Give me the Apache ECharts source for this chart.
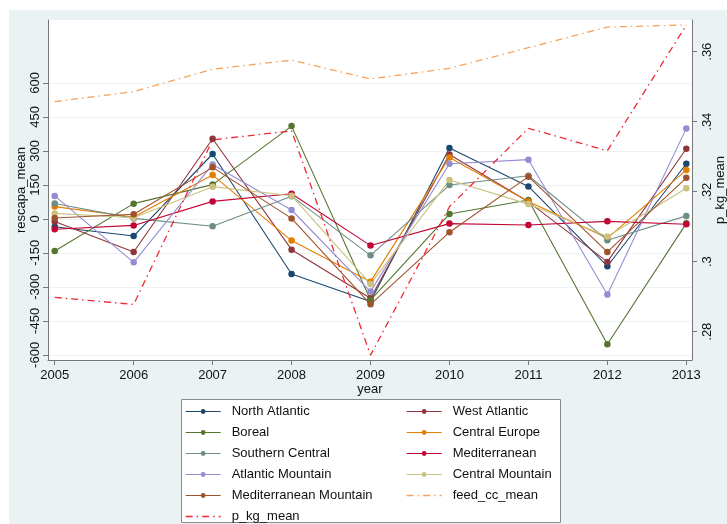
<!DOCTYPE html>
<html><head><meta charset="utf-8">
<script src="https://cdn.jsdelivr.net/npm/echarts@6/dist/echarts.min.js"></script>
<style>html,body{margin:0;padding:0;background:#fff}#c{width:727px;height:524px}</style>
</head><body><div id="c"></div>
<script>
const years = [2005, 2006, 2007, 2008, 2009, 2010, 2011, 2012, 2013];
const northAtlantic = [-35, -76, 286, -243, -365, 312, 143, -209, 243];
const westAtlantic = [-12, -146, 353, -136, -350, 284, 75, -190, 309];
const boreal = [-142, 67, 151, 409, -358, 21, 83, -553, -20];
const centralEurope = [54, 8, 193, -96, -277, 271, 76, -85, 215];
const southernCentral = [68, 2, -33, 100, -161, 149, 190, -94, 13];
const mediterranean = [-46, -29, 77, 111, -118, -21, -27, -11, -24];
const atlanticMountain = [101, -192, 240, 39, -321, 243, 261, -334, 399];
const centralMountain = [24, 5, 142, 102, -287, 171, 65, -78, 135];
const medMountain = [4, 20, 227, 2, -377, -59, 186, -146, 181];
const feedCcMean = [517, 561, 660, 700, 617, 664, 755, 846, 855];
const pKgMean = [0.2898, 0.2878, 0.3348, 0.3374, 0.2733, 0.3157, 0.3381, 0.3317, 0.3676];
const leftTicks = [-600, -450, -300, -150, 0, 150, 300, 450, 600];
const rightTicks = [0.28, 0.30, 0.32, 0.34, 0.36];
const rightTickLabels = ['.28', '.3', '.32', '.34', '.36'];

const FONT = 'Liberation Sans, Arial, Helvetica, sans-serif';
const FEED_COLOR = '#f5a35c';
const PKG_COLOR = '#ee2b33';
const DASH_DOT = [7, 4, 1.5, 4];
const regions = [
  ['North Atlantic', northAtlantic, '#1a476f'],
  ['West Atlantic', westAtlantic, '#90353b'],
  ['Boreal', boreal, '#55752f'],
  ['Central Europe', centralEurope, '#e37e00'],
  ['Southern Central', southernCentral, '#6e8e84'],
  ['Mediterranean', mediterranean, '#c10534'],
  ['Atlantic Mountain', atlanticMountain, '#938dd2'],
  ['Central Mountain', centralMountain, '#cac27e'],
  ['Mediterranean Mountain', medMountain, '#a0522d']
];
const pair = arr => years.map((y, i) => [y, arr[i]]);

const series = regions.map(([name, arr, color]) => ({
  name, type: 'line', yAxisIndex: 0, data: pair(arr),
  symbol: 'circle', symbolSize: 6.5, showSymbol: true,
  itemStyle: { color }, lineStyle: { color, width: 1.1 },
  emphasis: { disabled: true }, silent: true
}));
series.push({
  name: 'feed_cc_mean', type: 'line', yAxisIndex: 0, data: pair(feedCcMean),
  symbol: 'none', itemStyle: { color: FEED_COLOR },
  lineStyle: { color: FEED_COLOR, width: 1.3, type: DASH_DOT },
  emphasis: { disabled: true }, silent: true
});
series.push({
  name: 'p_kg_mean', type: 'line', yAxisIndex: 1, data: pair(pKgMean),
  symbol: 'none', itemStyle: { color: PKG_COLOR },
  lineStyle: { color: PKG_COLOR, width: 1.3, type: DASH_DOT },
  emphasis: { disabled: true }, silent: true
});

const legendCommon = {
  orient: 'vertical', itemWidth: 35, itemHeight: 6, itemGap: 8, z: 10,
  padding: 0, height: 140,
  selectedMode: false,
  lineStyle: { width: 1.1 },
  textStyle: { fontSize: 13, color: '#111', fontFamily: FONT, padding: [0, 0, 0, 6] }
};
const noMarker = (name, color) => ({
  name, itemStyle: { opacity: 0 },
  lineStyle: { color, width: 1.3, type: DASH_DOT, opacity: 1 }
});

const axisNameStyle = { fontSize: 13, color: '#111', fontFamily: FONT };
const chart = echarts.init(document.getElementById('c'), null, { renderer: 'canvas' });
chart.setOption({
  animation: false,
  backgroundColor: '#eaf2f3',
  textStyle: { fontFamily: FONT },
  grid: { left: 48, right: 35, top: 20, bottom: 164, show: true, backgroundColor: '#ffffff', borderWidth: 0, outerBoundsMode: 'none', containLabel: false },
  xAxis: {
    type: 'value', min: 2004.915, max: 2013.072,
    name: 'year', nameLocation: 'middle', nameGap: 23, nameMoveOverlap: false,
    nameTextStyle: axisNameStyle,
    axisLine: { show: true, onZero: false, lineStyle: { color: '#777', width: 1 } },
    axisTick: { show: true, length: 5, customValues: years, lineStyle: { color: '#777' } },
    axisLabel: { customValues: years, fontSize: 13, color: '#111', margin: 9, fontFamily: FONT, formatter: v => String(v) },
    splitLine: { show: false }
  },
  yAxis: [{
    type: 'value', position: 'left', min: -622.6, max: 877,
    name: 'rescapa_mean', nameLocation: 'middle', nameGap: 20.5, nameRotate: 90, nameMoveOverlap: false,
    nameTextStyle: axisNameStyle,
    axisLine: { show: true, onZero: false, lineStyle: { color: '#777', width: 1 } },
    axisTick: { show: true, length: 5, customValues: leftTicks, lineStyle: { color: '#777' } },
    axisLabel: { customValues: leftTicks, rotate: 90, fontSize: 13, color: '#111', margin: 6, fontFamily: FONT },
    splitLine: { show: true, lineStyle: { color: '#edf2f2', width: 1 } }
  }, {
    type: 'value', position: 'right', min: 0.271914, max: 0.369057,
    name: 'p_kg_mean', nameLocation: 'middle', nameGap: 21.5, nameRotate: 90, nameMoveOverlap: false,
    nameTextStyle: axisNameStyle,
    axisLine: { show: true, onZero: false, lineStyle: { color: '#777', width: 1 } },
    axisTick: { show: true, length: 5, customValues: rightTicks, lineStyle: { color: '#777' } },
    axisLabel: {
      customValues: rightTicks, rotate: 90, fontSize: 13, color: '#111', margin: 9, fontFamily: FONT,
      formatter: v => {
        let best = 0;
        rightTicks.forEach((t, i) => { if (Math.abs(t - v) < Math.abs(rightTicks[best] - v)) best = i; });
        return rightTickLabels[best];
      }
    },
    splitLine: { show: false }
  }],
  legend: [
    Object.assign({}, legendCommon, {
      left: 185, top: 405,
      data: ['North Atlantic', 'Boreal', 'Southern Central', 'Atlantic Mountain', 'Mediterranean Mountain', noMarker('p_kg_mean', PKG_COLOR)]
    }),
    Object.assign({}, legendCommon, {
      left: 406, top: 405,
      data: ['West Atlantic', 'Central Europe', 'Mediterranean', 'Central Mountain', noMarker('feed_cc_mean', FEED_COLOR)]
    })
  ],
  graphic: [
    { type: 'rect', left: 0, top: 0, shape: { x: 0, y: 0, width: 727, height: 10 }, style: { fill: '#ffffff' }, z: 0, silent: true },
    { type: 'rect', left: 0, top: 0, shape: { x: 0, y: 0, width: 9, height: 524 }, style: { fill: '#ffffff' }, z: 0, silent: true },
    { type: 'rect', left: 181, top: 399, shape: { x: 0, y: 0, width: 379, height: 123 }, style: { fill: '#ffffff', stroke: '#8a8a8a', lineWidth: 1 }, z: 1, silent: true }
  ],
  series
});
</script></body></html>
